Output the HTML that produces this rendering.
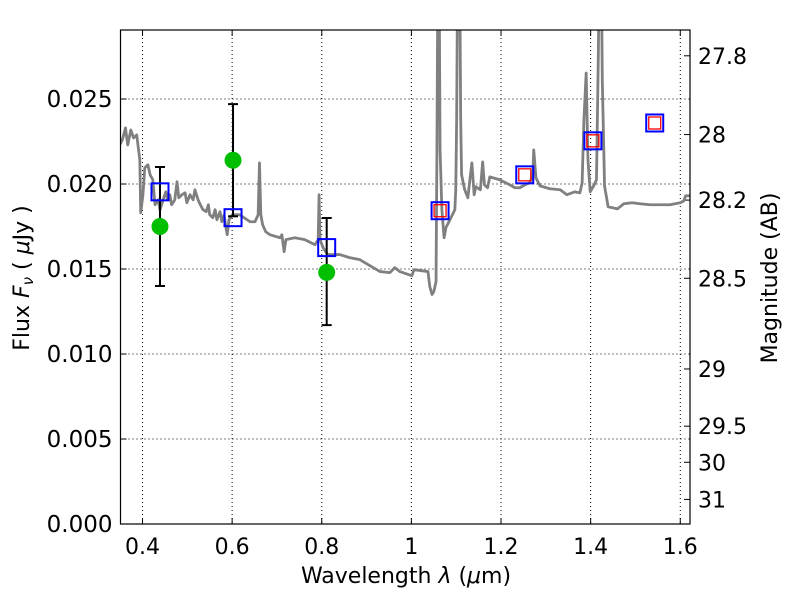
<!DOCTYPE html>
<html><head><meta charset="utf-8"><style>
body{margin:0;background:#fff;}
svg{display:block;font-family:"DejaVu Sans","Liberation Sans",sans-serif;}
</style></head><body>
<svg id="chart" width="800" height="600"></svg>
<script>
const specLam=[0.349,0.355,0.362,0.367,0.374,0.380,0.387,0.394,0.396,0.401,0.405,0.412,0.417,0.423,0.428,0.435,0.439,0.446,0.452,0.456,0.461,0.465,0.472,0.477,0.481,0.488,0.495,0.499,0.506,0.513,0.517,0.524,0.529,0.535,0.542,0.547,0.550,0.557,0.562,0.566,0.573,0.577,0.582,0.587,0.589,0.593,0.600,0.617,0.640,0.651,0.658,0.661,0.664,0.668,0.675,0.684,0.707,0.711,0.716,0.720,0.740,0.762,0.785,0.792,0.794,0.796,0.803,0.813,0.840,0.862,0.885,0.907,0.930,0.952,0.963,0.974,1.001,1.006,1.037,1.041,1.046,1.050,1.055,1.057,1.059,1.062,1.064,1.068,1.073,1.077,1.086,1.097,1.099,1.101,1.103,1.108,1.110,1.112,1.119,1.126,1.131,1.135,1.140,1.144,1.154,1.159,1.163,1.170,1.175,1.197,1.220,1.231,1.242,1.253,1.264,1.271,1.273,1.278,1.287,1.309,1.332,1.347,1.365,1.376,1.381,1.385,1.390,1.394,1.399,1.408,1.413,1.417,1.419,1.424,1.426,1.431,1.439,1.460,1.474,1.492,1.510,1.532,1.554,1.577,1.600,1.608,1.612,1.622];
const specFlux=[22.30,22.59,23.30,22.30,23.18,22.71,22.89,21.42,18.31,19.37,20.95,21.13,20.54,20.25,18.78,19.07,18.49,19.07,19.54,19.07,19.37,18.78,19.07,20.13,19.19,19.37,19.48,18.90,19.37,19.07,19.66,19.07,18.78,18.49,18.37,18.78,18.19,18.02,18.49,17.90,18.37,17.78,18.19,17.31,17.02,17.90,18.19,18.19,17.78,17.78,18.19,21.24,18.19,17.61,17.19,17.02,16.84,17.02,16.02,16.73,16.84,16.73,16.43,16.73,19.37,16.73,16.26,15.85,15.85,15.67,15.55,15.20,14.85,14.79,15.08,14.85,14.61,14.96,14.85,13.97,13.50,13.67,14.26,22.0,32,32,22.0,18.49,16.84,17.43,17.90,18.49,19.66,23.77,32,32,23.77,20.54,19.66,19.19,20.36,21.24,19.37,19.84,19.66,21.30,19.95,19.78,20.42,20.25,19.95,19.78,19.78,19.95,20.07,20.48,22.01,20.36,19.89,19.72,19.66,19.37,19.54,19.48,20.07,23.77,26.53,21.42,19.54,19.95,20.25,27.29,32,32,26.12,19.89,18.66,18.54,18.84,18.90,18.84,18.78,18.78,18.78,18.90,19.01,19.31,19.31].map(v=>v/1000);
const obsLam=[0.439,0.602,0.811];
const obsFlux=[0.0175,0.0214,0.0148];
const obsLo=[0.0140,0.0181,0.0117];
const obsHi=[0.0210,0.0247,0.0180];
const modLam=[0.439,0.602,0.811,1.064,1.253,1.405,1.543];
const modFlux=[0.01954,0.01802,0.01626,0.01843,0.02054,0.02254,0.02359];
const redLam=[1.064,1.253,1.405,1.543];
const redFlux=[0.01843,0.02054,0.02254,0.02359];
const xTicks=[0.4,0.6,0.8,1,1.2,1.4,1.6];
const xTickLabels=["0.4","0.6","0.8","1","1.2","1.4","1.6"];
const yTicks=[0,0.005,0.01,0.015,0.02,0.025];
const yTickLabels=["0.000","0.005","0.010","0.015","0.020","0.025"];
const magTicks=[27.8,28,28.2,28.5,29,29.5,30,31];
const magTickLabels=["27.8","28","28.2","28.5","29","29.5","30","31"];

const L=120.5,R=690,T=30,B=524;
const xMin=0.3509,xMax=1.6217,yMin=0,yMax=0.02906;
const X=v=>L+(v-xMin)/(xMax-xMin)*(R-L);
const Y=v=>B-(v-yMin)/(yMax-yMin)*(B-T);
const NS="http://www.w3.org/2000/svg";
const svg=document.getElementById('chart');
function mk(tag,attrs,parent){const e=document.createElementNS(NS,tag);for(const k in attrs)e.setAttribute(k,attrs[k]);(parent||svg).appendChild(e);return e;}
const defs=mk('defs',{});
const cp=mk('clipPath',{id:'clip'},defs);mk('rect',{x:L,y:T,width:R-L,height:B-T},cp);
xTicks.forEach((t,i)=>{
 const g=mk('line',{x1:X(t),x2:X(t),y1:T,y2:B,stroke:'#000','stroke-width':1,'stroke-dasharray':'1,3'});
 
 
 mk('line',{x1:X(t),x2:X(t),y1:B,y2:B-6,stroke:'#000'});
 mk('line',{x1:X(t),x2:X(t),y1:T,y2:T+6,stroke:'#000'});
 const tx=mk('text',{x:X(t),y:B+30,'text-anchor':'middle','font-size':22});tx.textContent=xTickLabels[i];
 
 
});
yTicks.forEach((t,i)=>{
 if(t>0){const g=mk('line',{x1:L,x2:R,y1:Y(t),y2:Y(t),stroke:'#000','stroke-width':1,'stroke-dasharray':'1,3'});
 
 }
 mk('line',{x1:L,x2:L+6,y1:Y(t),y2:Y(t),stroke:'#000'});
 const tx=mk('text',{x:L-8,y:Y(t)+8,'text-anchor':'end','font-size':23});tx.textContent=yTickLabels[i];
 
 
});
magTicks.forEach((m,i)=>{
 const f=Math.pow(10,(23.9-m)/2.5);const y=Y(f);
 mk('line',{x1:R,x2:R-6,y1:y,y2:y,stroke:'#000'});
 const tx=mk('text',{x:R+8,y:y+8,'font-size':22});tx.textContent=magTickLabels[i];
 
 
});
const gp=mk('g',{'clip-path':'url(#clip)'});
const sp=mk('polyline',{points:specLam.map((l,i)=>X(l)+','+Y(specFlux[i])).join(' '),fill:'none',stroke:'#808080','stroke-width':2.8,'stroke-linejoin':'round'},gp);


obsLam.forEach((l,i)=>{
 const x=X(l);
 const e=mk('line',{x1:x,x2:x,y1:Y(obsLo[i]),y2:Y(obsHi[i]),stroke:'#000','stroke-width':2},gp);
 
 
 mk('line',{x1:x-5,x2:x+5,y1:Y(obsLo[i]),y2:Y(obsLo[i]),stroke:'#000','stroke-width':2},gp);
 mk('line',{x1:x-5,x2:x+5,y1:Y(obsHi[i]),y2:Y(obsHi[i]),stroke:'#000','stroke-width':2},gp);
});
obsLam.forEach((l,i)=>{
 const c=mk('circle',{cx:X(l),cy:Y(obsFlux[i]),r:8,fill:'#00bf00',stroke:'#00bf00'},gp);
 
 
});
modLam.forEach((l,i)=>{
 const s=mk('rect',{x:X(l)-8.5,y:Y(modFlux[i])-8.5,width:17,height:17,fill:'none',stroke:'#0000ff','stroke-width':2},gp);
 
 
});
redLam.forEach((l,i)=>{
 const s=mk('rect',{x:X(l)-6,y:Y(redFlux[i])-6,width:12,height:12,fill:'none',stroke:'#ff0000','stroke-width':1.3},gp);
 
 
});
const fr=mk('rect',{x:L,y:T,width:R-L,height:B-T,fill:'none',stroke:'#000','stroke-width':1.2});


const xl=mk('text',{x:406,y:583,'text-anchor':'middle','font-size':22});
xl.innerHTML='Wavelength  <tspan font-style="italic">λ</tspan> (<tspan font-style="italic">μ</tspan>m)';


const yl=mk('text',{transform:'translate(29,278) rotate(-90)','text-anchor':'middle','font-size':22});
yl.innerHTML='Flux  <tspan font-style="italic">F</tspan><tspan font-style="italic" font-size="15" dy="4">ν</tspan><tspan dy="-4">  ( </tspan><tspan font-style="italic">μ</tspan>Jy )';


const ml=mk('text',{transform:'translate(777,278) rotate(-90)','text-anchor':'middle','font-size':22});
ml.textContent='Magnitude (AB)';


</script>
</body></html>
